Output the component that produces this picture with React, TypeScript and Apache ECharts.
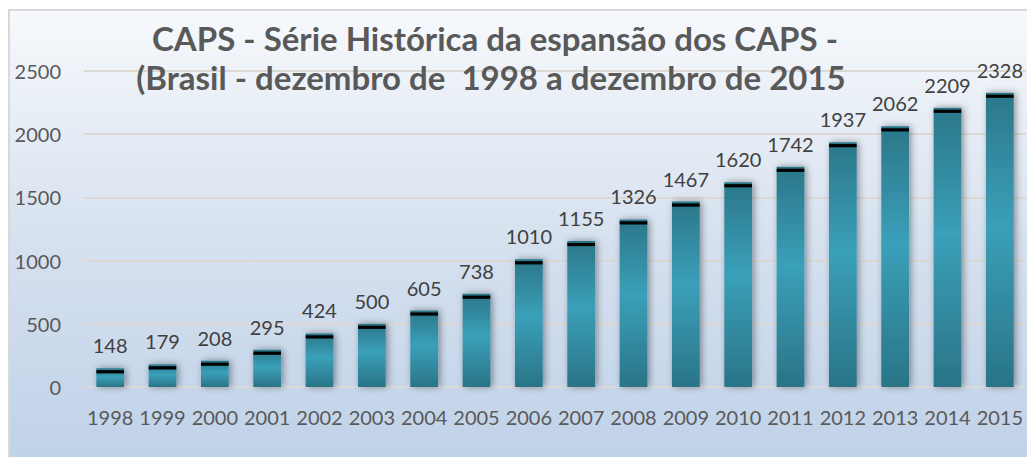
import React, { useEffect, useRef } from "react";
import * as echarts from "echarts";

const titleLines = [
  "CAPS - Série Histórica da espansão dos CAPS -",
  "(Brasil - dezembro de  1998 a dezembro de 2015",
];
const years = ["1998","1999","2000","2001","2002","2003","2004","2005","2006","2007","2008","2009","2010","2011","2012","2013","2014","2015"];
const caps = [148,179,208,295,424,500,605,738,1010,1155,1326,1467,1620,1742,1937,2062,2209,2328];
const yTicks = { min: 0, max: 2500, interval: 500 };

const FONT = "Lato, 'Open Sans', sans-serif";

export default function App() {
  const ref = useRef<HTMLDivElement>(null);
  useEffect(() => {
    if (!ref.current) return;
    const chart = echarts.init(ref.current, null, { renderer: "svg" });
    const barFill = new echarts.graphic.LinearGradient(0, 0, 0, 1, [
      { offset: 0, color: "#2b7689" },
      { offset: 0.45, color: "#3aa0b9" },
      { offset: 1, color: "#2a7487" },
    ]);
    chart.setOption({
      animation: false,
      backgroundColor: "#ffffff",
      graphic: [
        {
          type: "rect",
          z: -10,
          shape: { x: 9, y: 10, width: 1030, height: 460 },
          style: {
            fill: new echarts.graphic.LinearGradient(0, 0, 0, 1, [
              { offset: 0, color: "#f7f9fc" },
              { offset: 0.5, color: "#d6e1ef" },
              { offset: 1, color: "#bfd1e8" },
            ]),
            stroke: "#d9d9d9",
            lineWidth: 2,
          },
        },
        {
          type: "text",
          x: 495,
          y: 38,
          z: 10,
          style: {
            text: titleLines[0],
            font: `bold 33px ${FONT}`,
            fill: "#595959",
            align: "center",
            verticalAlign: "middle",
          },
        },
        {
          type: "text",
          x: 491,
          y: 77,
          z: 10,
          style: {
            text: titleLines[1],
            font: `bold 33px ${FONT}`,
            fill: "#595959",
            align: "center",
            verticalAlign: "middle",
          },
        },
      ],
      grid: { left: 84, right: 1, top: 71, bottom: 70, containLabel: false },
      xAxis: {
        type: "category",
        data: years,
        axisLine: { lineStyle: { color: "#d9d9d9", width: 2 } },
        axisTick: { show: false },
        axisLabel: { color: "#595959", fontSize: 20, fontFamily: FONT, margin: 20, interval: 0 },
      },
      yAxis: {
        type: "value",
        min: yTicks.min,
        max: yTicks.max,
        interval: yTicks.interval,
        axisLine: { show: false },
        axisTick: { show: false },
        axisLabel: {
          color: "#595959",
          fontSize: 20,
          fontFamily: FONT,
          margin: 23,
          formatter: (v: number) => String(v),
        },
        splitLine: { lineStyle: { color: "#dcd9d4", width: 2 } },
      },
      series: [
        {
          type: "bar",
          data: caps,
          barWidth: "53%",
          itemStyle: {
            color: barFill,
            shadowColor: "rgba(0,0,0,0.4)",
            shadowBlur: 7,
            shadowOffsetX: 2,
            shadowOffsetY: 0,
          },
          label: {
            show: true,
            position: "top",
            distance: 13,
            color: "#404040",
            fontSize: 20,
            fontFamily: FONT,
          },
        },
        {
          type: "pictorialBar",
          data: caps,
          barWidth: "53%",
          symbol: "rect",
          symbolPosition: "end",
          symbolSize: ["100%", 3],
          symbolOffset: [0, 2],
          itemStyle: { color: "#000000" },
          z: 5,
          silent: true,
        },
      ],
    });
    return () => chart.dispose();
  }, []);
  return (
    <div
      ref={ref}
      style={{ position: "absolute", left: 0, top: 0, width: 1027, height: 457 }}
    />
  );
}
